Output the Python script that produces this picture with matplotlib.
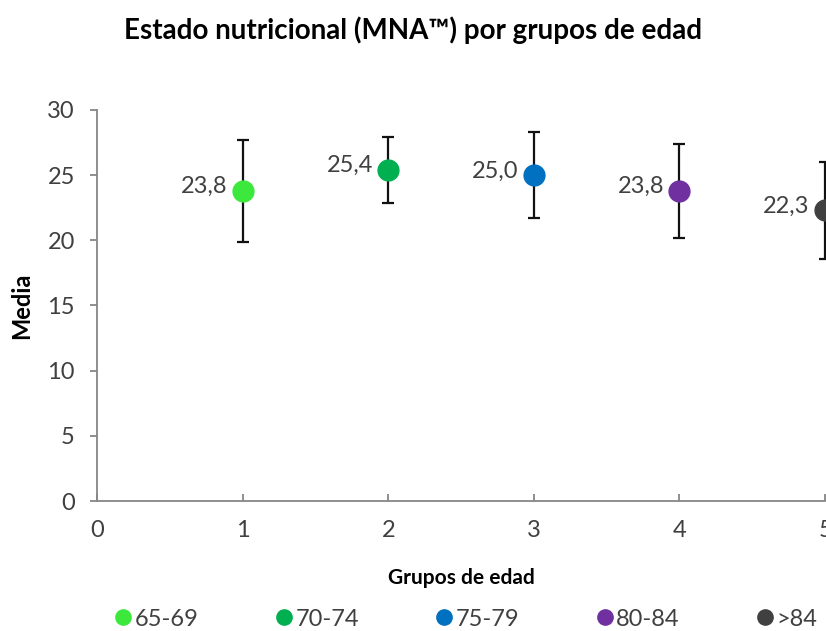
import matplotlib.pyplot as plt
from matplotlib.lines import Line2D

plt.rcParams['font.family'] = ['Lato', 'DejaVu Sans']

# datos
grupos = [1, 2, 3, 4, 5]
medias = [23.8, 25.4, 25.0, 23.8, 22.3]
errores = [3.9, 2.5, 3.3, 3.6, 3.7]
etiquetas = ['65-69', '70-74', '75-79', '80-84', '>84']
colores = ['#3de83d', '#00b050', '#0070c0', '#7030a0', '#404040']

fig = plt.figure(figsize=(8.26, 6.31), dpi=100)
ax = fig.add_axes([0.1174, 0.206, 0.8815, 0.6197])

for x, m, e, c in zip(grupos, medias, errores, colores):
    ax.errorbar(x, m, yerr=e, fmt='none', ecolor='#111111', elinewidth=1.6,
                capsize=4.5, capthick=1.6, clip_on=False, zorder=2)
    ax.plot(x, m, 'o', color=c, ms=15, clip_on=False, zorder=3)
    ax.annotate(f'{m:.1f}'.replace('.', ','), xy=(x, m), xytext=(-11, 3),
                textcoords='offset points', ha='right', va='center',
                fontsize=17, color='#404040')

ax.set_xlim(0, 5)
ax.set_ylim(0, 30)
ax.set_yticks(range(0, 31, 5))
ax.set_xticks(range(0, 6))

for s in ['top', 'right']:
    ax.spines[s].set_visible(False)
for s in ['left', 'bottom']:
    ax.spines[s].set_color('#868686')
    ax.spines[s].set_linewidth(1.3)

ax.tick_params(axis='y', direction='out', length=5, width=1.3, color='#868686',
               labelsize=17, labelcolor='#404040', pad=11)
ax.tick_params(axis='x', direction='in', length=5, width=1.3, color='#868686',
               labelsize=17, labelcolor='#404040', pad=14)

ax.set_ylabel('Media', fontsize=17, fontweight='bold', labelpad=10)
ax.set_xlabel('Grupos de edad', fontsize=15, fontweight='bold', labelpad=19)

fig.suptitle('Estado nutricional (MNA™) por grupos de edad', fontsize=20,
             fontweight='bold', x=0.5, y=1 - 30 / 631, va='center')

handles = [Line2D([], [], marker='o', ls='none', color=c, ms=11) for c in colores]
fig.legend(handles, etiquetas, loc='center', bbox_to_anchor=(0.563, 1 - 619 / 631),
           ncol=5, frameon=False, handletextpad=0.05, handlelength=0.9,
           columnspacing=3.15, fontsize=17, labelcolor='#404040')

fig.savefig('out.png', dpi=100, facecolor='white')
